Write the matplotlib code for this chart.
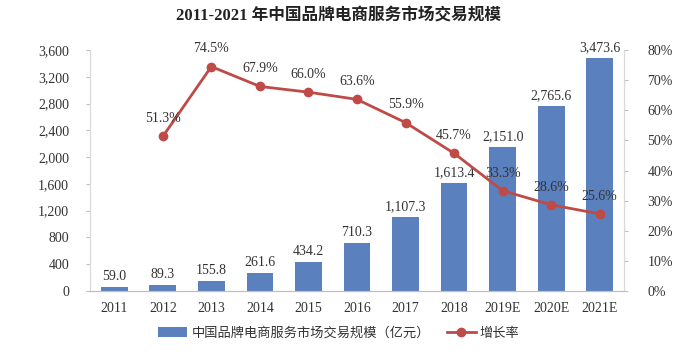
import numpy as np
import matplotlib.pyplot as plt

plt.rcParams['font.family'] = ['Liberation Serif', 'Noto Sans CJK SC', 'DejaVu Sans']

years = ['2011', '2012', '2013', '2014', '2015', '2016', '2017', '2018', '2019E', '2020E', '2021E']
scale = [59.0, 89.3, 155.8, 261.6, 434.2, 710.3, 1107.3, 1613.4, 2151.0, 2765.6, 3473.6]
growth = [None, 51.3, 74.5, 67.9, 66.0, 63.6, 55.9, 45.7, 33.3, 28.6, 25.6]

bar_color = '#5a80be'
line_color = '#be4b48'
txt = '#333333'

fig = plt.figure(figsize=(6.78, 3.55), dpi=100)
ax = fig.add_axes([90 / 678, 1 - 291 / 355, (624 - 90) / 678, (291 - 50) / 355])
x = np.arange(len(years))

bars = ax.bar(x, scale, width=0.55, color=bar_color, label='中国品牌电商服务市场交易规模（亿元）', zorder=2)
for xi, v in zip(x, scale):
    ax.text(xi, v + 60, f'{v:,.1f}', ha='center', va='bottom', fontsize=10, color=txt)

ax.set_ylim(0, 3600)
ax.set_yticks(np.arange(0, 3601, 400))
ax.set_yticklabels([f'{int(t):,}' for t in np.arange(0, 3601, 400)])
ax.set_xlim(-0.5, len(years) - 0.5)
ax.set_xticks(x)
ax.set_xticklabels(years)

ax2 = ax.twinx()
gx = [xi for xi, g in zip(x, growth) if g is not None]
gy = [g for g in growth if g is not None]
ax2.plot(gx, gy, color=line_color, lw=2, marker='o', ms=6, label='增长率', zorder=3)
for xi, g in zip(gx, gy):
    ax2.annotate(f'{g:.1f}%', (xi, g), xytext=(0, 8), textcoords='offset points',
                 ha='center', va='bottom', fontsize=10, color=txt)
ax2.set_ylim(0, 80)
ax2.set_yticks(np.arange(0, 81, 10))
ax2.set_yticklabels([f'{t}%' for t in range(0, 81, 10)])

for a in (ax, ax2):
    a.spines['top'].set_visible(False)
    a.spines['left'].set_color('#d9d9d9')
    a.spines['right'].set_color('#d9d9d9')
    a.spines['bottom'].set_color('#bfbfbf')
    a.tick_params(axis='x', length=0, labelcolor=txt, labelsize=10, pad=8)
ax.tick_params(axis='y', colors='#bfbfbf', labelcolor=txt, labelsize=10, length=3, pad=12)
ax2.tick_params(axis='y', colors='#bfbfbf', labelcolor=txt, labelsize=10, length=3, pad=14)

fig.text(0.5, 1 - 16 / 355, '2011-2021 年中国品牌电商服务市场交易规模', ha='center', va='center',
         fontsize=12, fontweight='bold', color='#222222')

h1, l1 = ax.get_legend_handles_labels()
h2, l2 = ax2.get_legend_handles_labels()
leg = fig.legend(h1 + h2, l1 + l2, loc='center', bbox_to_anchor=(0.5, 1 - 333 / 355), ncol=2,
                 frameon=False, prop={'family': ['Noto Sans CJK SC'], 'size': 9.5},
                 handlelength=2.2, handletextpad=0.3, columnspacing=1.3)
for t in leg.get_texts():
    t.set_color(txt)

fig.savefig('out.png', dpi=100)
